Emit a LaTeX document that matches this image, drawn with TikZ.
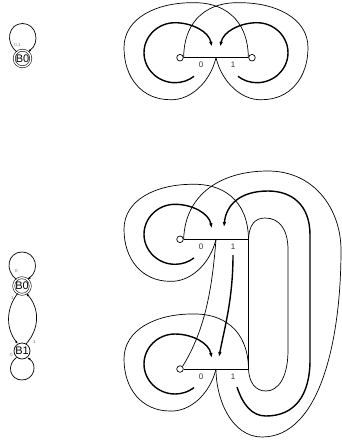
\documentclass[tikz,border=0pt]{standalone}
\usepackage{fontspec}
\setmainfont{Liberation Sans}
\usetikzlibrary{positioning,arrows.meta}

\begin{document}
\begin{tikzpicture}[
    x=1pt, y=-1pt,
    every node/.style={font=\fontsize{8}{9}\selectfont, inner sep=0pt, text=black!80},
    portDot/.style={circle, draw, line width=0.7pt, minimum size=6.6pt},
    wireLine/.style={draw, line width=0.7pt},
    barLine/.style={draw, line width=0.9pt},
    flowArrow/.style={draw, line width=1.4pt, -{Latex[length=5pt,width=3.6pt]}},
    acceptState/.style={circle, draw, double, double distance=1.4pt, line width=0.55pt, minimum size=16.6pt, font=\fontsize{11}{12}\selectfont, text=black},
    plainState/.style={circle, draw, line width=0.7pt, minimum size=16pt, font=\fontsize{11}{12}\selectfont, text=black},
    transLine/.style={draw, line width=0.7pt, -{Latex[length=3pt,width=2.4pt]}},
    transLabel/.style={font=\fontsize{4.5}{5}\selectfont, text=black!55}
]
\useasboundingbox (0,0) rectangle (342,440);

\node [portDot] (inA) at (180,57.7) {};
\node [portDot] (outA) at (252,57.7) {};
\coordinate (midA) at (216,57.7);
\coordinate (endA) at (outA.west);

\node [portDot] (inU) at (180,239.3) {};
\coordinate (midU) at (216,239.3);
\coordinate (endU) at (248.5,239.3);

\node [portDot] (inL) at (180,369) {};
\coordinate (midL) at (216,369);
\coordinate (endL) at (248.5,369);

\path [barLine] (inA) -- (outA);
\path [barLine] (inU) -- (endU);
\path [barLine] (inL) -- (endL);

\foreach \blk in {A,U,L} {
    \begin{scope}[shift={(in\blk)}]
        \coordinate (spin\blk) at (14,18.6);
        \coordinate (tip\blk) at (31.7,-11);
        \path [flowArrow] (spin\blk) .. controls (8.7,22.8) and (1.9,25) .. (-5,25)
            .. controls (-22,25) and (-36,11.5) .. (-36,-5)
            .. controls (-36,-21.5) and (-22,-35) .. (-5,-35)
            .. controls (12,-35) and (29,-26) .. (tip\blk);
        \path [wireLine] (end\blk) .. controls (68,-40) and (42,-56) .. (12,-55)
            .. controls (-23,-55) and (-56,-40) .. (-56,-10)
            .. controls (-56,20) and (-38,42) .. (-10,42)
            .. controls (10,43) and (30,25) .. (mid\blk);
        \node (zero\blk) at (21,7.5) {0};
        \node (one\blk) at (53,7.5) {1};
    \end{scope}
}

\begin{scope}[shift={(inA)}]
    \coordinate (spinR) at (58,18.6);
    \coordinate (tipR) at (40.3,-11);
    \path [flowArrow] (spinR) .. controls (63.3,22.8) and (70.1,25) .. (77,25)
        .. controls (94,25) and (108,11.5) .. (108,-5)
        .. controls (108,-21.5) and (94,-35) .. (77,-35)
        .. controls (60,-35) and (43,-26) .. (tipR);
    \path [wireLine] (inA.east) .. controls (4,-40) and (30,-56) .. (60,-55)
        .. controls (95,-55) and (128,-40) .. (128,-10)
        .. controls (128,20) and (110,42) .. (82,42)
        .. controls (62,43) and (42,25) .. (midA);
\end{scope}

\coordinate (spinD) at (233,255);
\coordinate (tipD) at (219,357);
\coordinate (spinB) at (237,387);
\coordinate (tipB) at (224,227);

\path [wireLine] (endU) -- (endL);
\path [wireLine] (inU.east) .. controls (185,195) and (220,171) .. (268,171)
    .. controls (315,171) and (341,210) .. (341,250)
    .. controls (341,340) and (320,437) .. (262,437)
    .. controls (232,437) and (216,400) .. (midL);
\path [wireLine] (endU) .. controls (249,225) and (255,218) .. (265,218)
    .. controls (280,218) and (288,230) .. (288,250) -- (288,350)
    .. controls (288,378) and (278,391) .. (266,391)
    .. controls (255,391) and (249,382) .. (endL);
\path [wireLine] (midU) .. controls (212,290) and (205,330) .. (inL.north east);
\path [flowArrow] (spinD) .. controls (233,300) and (224,330) .. (tipD);
\path [flowArrow] (spinB) .. controls (243,405) and (252,416) .. (266,416)
    .. controls (295,416) and (310,395) .. (310,360) -- (310,235)
    .. controls (310,205) and (292,191) .. (268,191)
    .. controls (240,191) and (226,205) .. (tipB);

\node [acceptState] (bzeroA) at (22.5,58.5) {B0};
\node [acceptState] (bzeroB) at (22,286) {B0};
\node [plainState] (bone) at (22,351) {B1};

\begin{scope}[shift={(bzeroA)}]
    \path [transLine] (bzeroA.130) .. controls (-18,-16) and (-14,-35) .. (0,-35)
        .. controls (14,-35) and (18,-16) .. (bzeroA.50);
\end{scope}
\begin{scope}[shift={(bzeroB)}]
    \path [transLine] (bzeroB.130) .. controls (-18,-16) and (-14,-34) .. (0,-34)
        .. controls (14,-34) and (18,-16) .. (bzeroB.50);
\end{scope}
\begin{scope}[shift={(bone)}]
    \path [transLine] (bone.230) .. controls (-16,14) and (-12,29) .. (0,29)
        .. controls (12,29) and (16,14) .. (bone.310);
\end{scope}
\path [transLine] (bzeroB.240) .. controls +(-12,15) and +(-12,-15) .. (bone.120);
\path [transLine] (bone.60) .. controls +(13.5,-15) and +(13.5,15) .. (bzeroB.300);

\node [transLabel] (lblA) at (17.5,45) {0,1};
\node [transLabel] (lblB) at (16.5,270.5) {0};
\node [transLabel] (lblC) at (11.5,354.5) {0};
\node [transLabel] (lblD) at (12.5,297.5) {1};
\node [transLabel] (lblE) at (34.5,341.5) {1};
\end{tikzpicture}
\end{document}
